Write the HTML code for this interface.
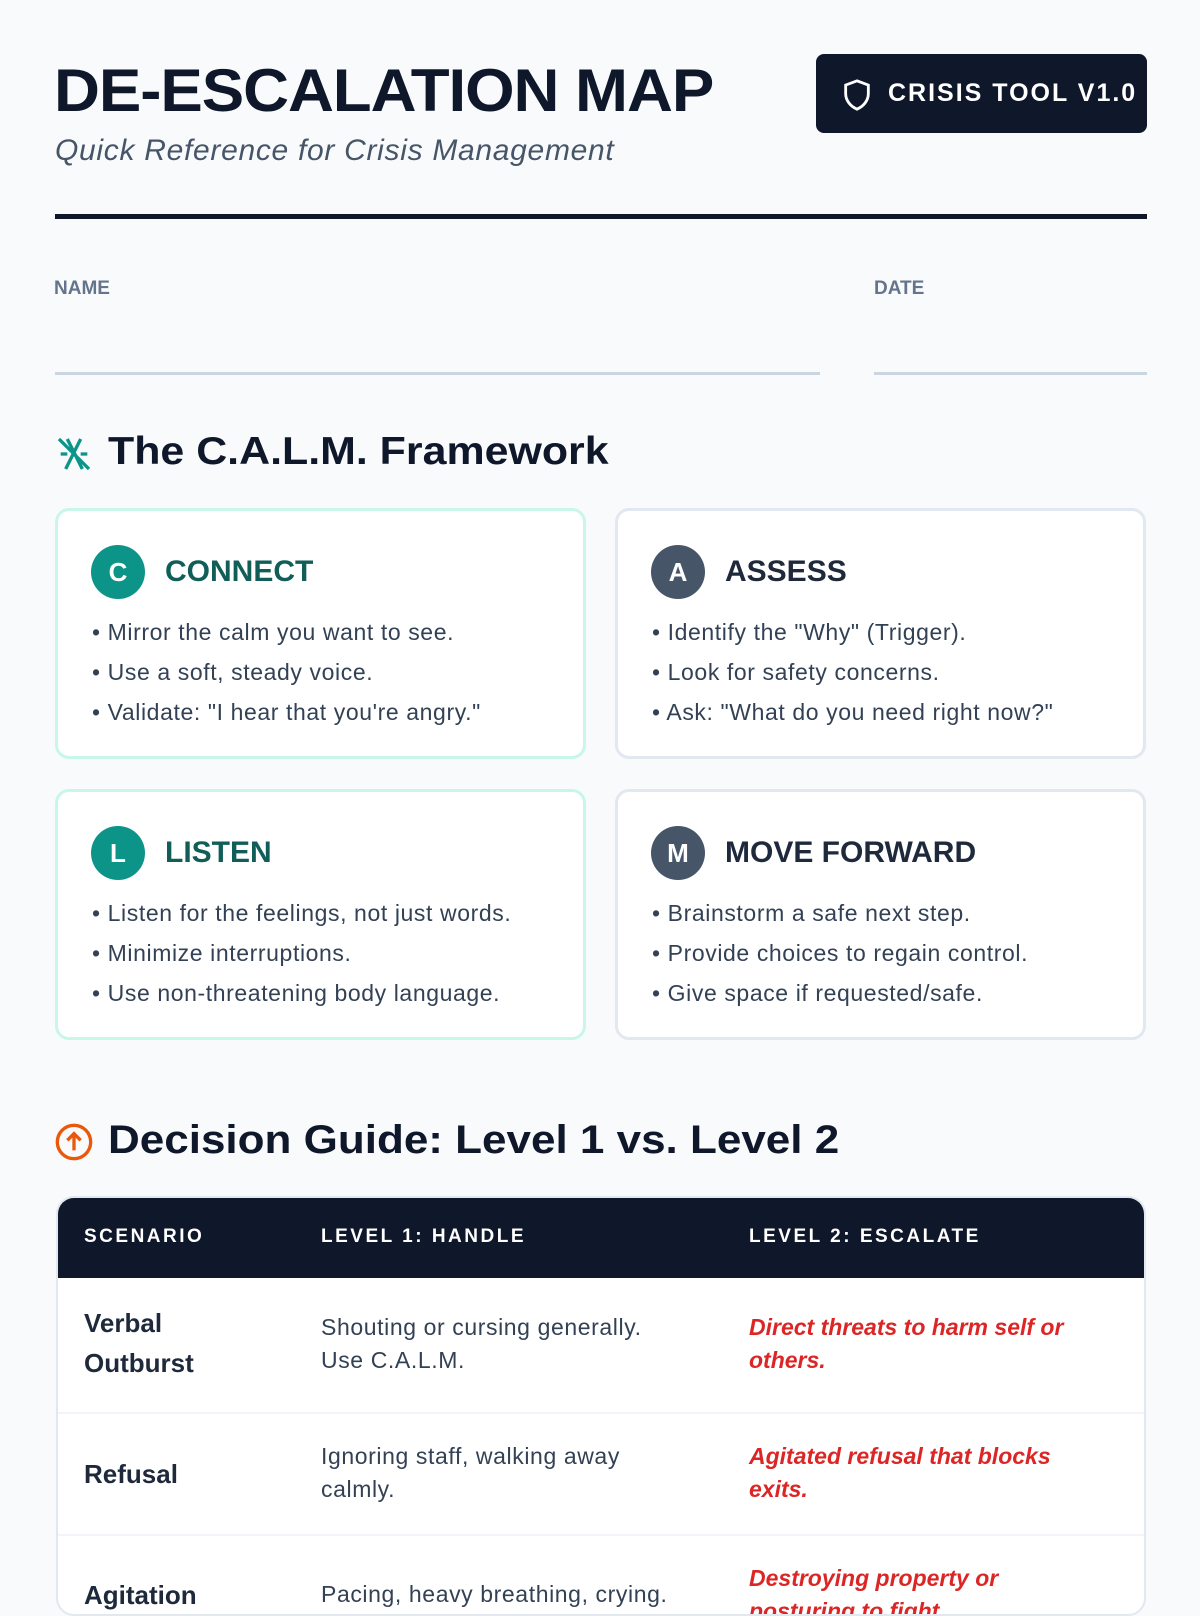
<!DOCTYPE html>
<html><head><meta charset="utf-8"><style>
*{margin:0;padding:0;box-sizing:border-box}
body{width:1200px;height:1600px;background:#f8fafc;font-family:"Liberation Sans",sans-serif;position:relative;overflow:hidden;color:#0f172a}
.a{position:absolute}
.title{left:54px;top:56px;font-size:60px;font-weight:900;letter-spacing:-1px;color:#0f172a;transform:scaleX(1.06);transform-origin:left}
.sub{left:55px;top:134px;font-size:30px;font-style:italic;color:#475569;letter-spacing:0.7px}
.badge{left:816px;top:54px;width:331px;height:79px;background:#0f172a;border-radius:8px;color:#fff;font-weight:700;font-size:25px;letter-spacing:2px;display:flex;align-items:center;padding-left:72px}
.rule{left:55px;top:214px;width:1092px;height:5px;background:#0f172a}
.lbl{font-size:19px;font-weight:700;color:#64748b;top:278px}
.line{height:3px;background:#cbd5e1;top:372px}
.h2{font-size:39px;font-weight:700;color:#0f172a;left:108px;transform:scaleX(1.1);transform-origin:left}
.card{background:#fff;border:3px solid #e2e8f0;border-radius:14px;width:531px;height:251px}
.card.g{border-color:#c8f7ea}
.circ{position:absolute;left:33px;top:34px;width:54px;height:54px;border-radius:50%;color:#fff;font-weight:700;font-size:26px;display:flex;align-items:center;justify-content:center}
.ct{position:absolute;left:107px;top:44px;font-size:30px;font-weight:700}
.ul{position:absolute;left:34px;top:101px;font-size:23px;color:#334155;line-height:40px;letter-spacing:0.6px}
.tbl{left:56px;top:1196px;width:1090px;height:420px;background:#fff;border:2px solid #e2e8f0;border-radius:18px;overflow:hidden}
.th{position:absolute;left:0;top:0;width:100%;height:80px;background:#0f172a}
.hx{position:absolute;top:28px;color:#fff;font-weight:700;font-size:19px;letter-spacing:2.5px}
.row{position:absolute;left:0;width:100%;border-top:2px solid #f1f5f9}
.c1{position:absolute;left:26px;font-size:26px;font-weight:700;color:#1e293b;line-height:40px}
.c2{position:absolute;left:263px;font-size:23px;color:#334155;line-height:33px;letter-spacing:0.6px}
.c3{position:absolute;left:691px;font-size:23px;color:#dc2626;font-weight:700;font-style:italic;line-height:33px}
</style></head><body>
<div class="a title">DE-ESCALATION MAP</div>
<div class="a sub">Quick Reference for Crisis Management</div>
<div class="a badge"><svg class="a" style="left:24px;top:22px" width="34" height="38" viewBox="0 0 24 24" fill="none" stroke="#fff" stroke-width="2"><path d="M12 2l8 3v6c0 5-3.5 9-8 11-4.5-2-8-6-8-11V5z"/></svg>CRISIS TOOL V1.0</div>
<div class="a rule"></div>
<div class="a lbl" style="left:54px">NAME</div>
<div class="a lbl" style="left:874px">DATE</div>
<div class="a line" style="left:55px;width:765px"></div>
<div class="a line" style="left:874px;width:273px"></div>

<svg class="a" style="left:54px;top:434px" width="40" height="40" viewBox="0 0 24 24" fill="none" stroke="#0d9488" stroke-width="2"><path d="M3 3l18 18M8 3l9 18M16 3l-9 18M4 12h4M16 12h4"/></svg>
<div class="a h2" style="top:430px">The C.A.L.M. Framework</div>

<div class="a card g" style="left:55px;top:508px"><div class="circ" style="background:#0d9488">C</div><div class="ct" style="color:#115e59">CONNECT</div><div class="ul">• Mirror the calm you want to see.<br>• Use a soft, steady voice.<br>• Validate: "I hear that you're angry."</div></div>
<div class="a card" style="left:615px;top:508px"><div class="circ" style="background:#475569">A</div><div class="ct" style="color:#1e293b">ASSESS</div><div class="ul">• Identify the "Why" (Trigger).<br>• Look for safety concerns.<br>• Ask: "What do you need right now?"</div></div>
<div class="a card g" style="left:55px;top:789px"><div class="circ" style="background:#0d9488">L</div><div class="ct" style="color:#115e59">LISTEN</div><div class="ul">• Listen for the feelings, not just words.<br>• Minimize interruptions.<br>• Use non-threatening body language.</div></div>
<div class="a card" style="left:615px;top:789px"><div class="circ" style="background:#475569">M</div><div class="ct" style="color:#1e293b">MOVE FORWARD</div><div class="ul">• Brainstorm a safe next step.<br>• Provide choices to regain control.<br>• Give space if requested/safe.</div></div>

<svg class="a" style="left:54px;top:1122px" width="40" height="40" viewBox="0 0 24 24" fill="none" stroke="#ea580c" stroke-width="2"><circle cx="12" cy="12" r="10"/><path d="M12 17V7M8 11l4-4 4 4"/></svg>
<div class="a h2" style="top:1118px;font-size:40px">Decision Guide: Level 1 vs. Level 2</div>

<div class="a tbl">
<div class="th"><div class="hx" style="left:26px">SCENARIO</div><div class="hx" style="left:263px">LEVEL 1: HANDLE</div><div class="hx" style="left:691px">LEVEL 2: ESCALATE</div></div>
<div class="row" style="top:80px;height:135px;border-top:none"><div class="c1" style="top:25px">Verbal<br>Outburst</div><div class="c2" style="top:33px">Shouting or cursing generally.<br>Use C.A.L.M.</div><div class="c3" style="top:33px">Direct threats to harm self or<br>others.</div></div>
<div class="row" style="top:214px;height:122px"><div class="c1" style="top:40px">Refusal</div><div class="c2" style="top:26px">Ignoring staff, walking away<br>calmly.</div><div class="c3" style="top:26px">Agitated refusal that blocks<br>exits.</div></div>
<div class="row" style="top:336px;height:122px"><div class="c1" style="top:39px">Agitation</div><div class="c2" style="top:42px">Pacing, heavy breathing, crying.</div><div class="c3" style="top:26px">Destroying property or<br>posturing to fight.</div></div>
</div>
</body></html>
